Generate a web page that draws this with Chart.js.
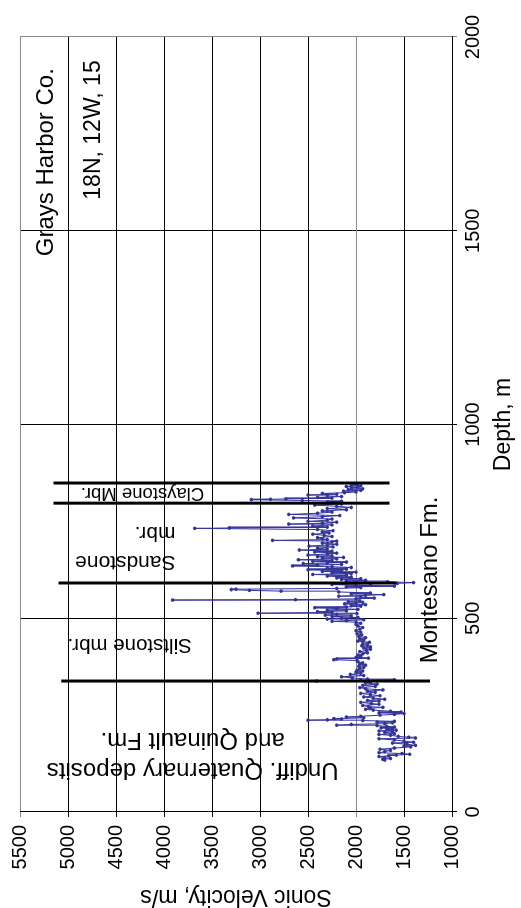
<!DOCTYPE html>
<html>
<head>
<meta charset="utf-8">
<script src="https://cdn.jsdelivr.net/npm/chart.js@4"></script>
<style>
html, body { margin: 0; padding: 0; background: #fff; }
/* chart is drawn depth-along-x, then the whole box is turned a quarter turn */
#wrap {
    position: absolute; left: 0; top: 0; width: 908px; height: 521px;
    transform-origin: 0 0; transform: translateY(908px) rotate(-90deg);
}
</style>
</head>
<body>
<div id="wrap"><canvas id="chart-sonic" width="908" height="521"></canvas></div>
<script>
const depthTicks = [0, 500, 1000, 1500, 2000];
const velocityTicks = [1000, 1500, 2000, 2500, 3000, 3500, 4000, 4500, 5000, 5500];

// sonic log, depth (m) and velocity (m/s)
const depths = [
    134, 136, 138, 140, 143, 145, 147, 149, 151, 153,
    156, 159, 162, 165, 168, 170, 172, 175, 178, 180,
    183, 186, 189, 191, 193, 195, 198, 200, 202, 205,
    207, 209, 211, 213, 215, 217, 219, 221, 223, 224,
    226, 228, 230, 232, 234, 236, 237, 238, 240, 241,
    243, 245, 247, 250, 252, 254, 256, 258, 260, 263,
    265, 268, 270, 272, 275, 278, 280, 283, 286, 288,
    291, 294, 297, 300, 303, 306, 309, 312, 315, 318,
    321, 324, 327, 330, 333, 336, 338, 340, 341, 343,
    346, 349, 352, 355, 358, 361, 364, 366, 370, 373,
    376, 379, 382, 385, 388, 391, 393, 395, 397, 399,
    402, 405, 408, 411, 414, 417, 420, 423, 426, 429,
    432, 435, 438, 441, 444, 447, 450, 453, 457, 460,
    464, 468, 472, 476, 480, 484, 487, 490, 492, 494,
    496, 498, 500, 502, 504, 506, 508, 510, 512, 513,
    515, 517, 519, 521, 523, 525, 527, 529, 531, 533,
    535, 537, 539, 541, 543, 545, 547, 548, 550, 552,
    555, 557, 559, 561, 563, 565, 568, 570, 572, 574,
    575, 577, 579, 581, 583, 585, 587, 589, 590, 592,
    594, 596, 598, 600, 602, 604, 606, 609, 611, 613,
    615, 617, 619, 621, 623, 625, 627, 629, 631, 633,
    635, 637, 639, 641, 643, 645, 647, 649, 651, 653,
    655, 657, 659, 661, 663, 666, 668, 671, 673, 676,
    678, 681, 684, 686, 689, 691, 694, 697, 699, 701,
    703, 705, 708, 711, 714, 717, 720, 723, 726, 729,
    732, 733, 735, 738, 741, 743, 745, 748, 750, 753,
    756, 759, 762, 765, 768, 771, 774, 777, 780, 783,
    786, 789, 792, 795, 798, 800, 802, 804, 806, 807,
    808, 810, 812, 814, 816, 818, 820, 822, 824, 826,
    828, 830, 832, 834, 836, 838, 840, 842, 844, 846,
];
const velocities = [
    1700, 1720, 1640, 1700, 1760, 1660, 1580, 1440, 1520, 1760,
    1700, 1640, 1750, 1600, 1430, 1500, 1380, 1470, 1620, 1400,
    1500, 1600, 1760, 1380, 1450, 1560, 1640, 1760, 1600, 1700,
    1620, 1760, 1580, 1680, 1620, 1740, 1600, 1680, 1780, 2200,
    2050, 1700, 1620, 1780, 1600, 1930, 2500, 2300, 2150, 2230,
    1920, 2100, 1950, 1750, 1600, 1500, 1760, 1530, 1640, 1820,
    1900, 1850, 1720, 1870, 1930, 1760, 1840, 1950, 1760, 1880,
    1700, 1820, 1920, 1750, 1850, 1950, 1800, 1880, 1720, 1900,
    1960, 1800, 1930, 1780, 1900, 1850, 2410, 1950, 1600, 1880,
    2040, 2150, 1920, 2060, 1950, 2000, 1930, 1990, 1960, 1920,
    1970, 1900, 1960, 1930, 1980, 1990, 2230, 2200, 1870, 2000,
    1950, 1980, 1930, 1880, 1960, 1890, 1850, 1920, 1850, 1940,
    1880, 1930, 1860, 1980, 1920, 1960, 1900, 1970, 1940, 1990,
    1950, 2000, 1960, 1930, 1980, 2000, 1950, 2000, 2250, 2100,
    1920, 2300, 2150, 1980, 2250, 2050, 2320, 2200, 1990, 3020,
    2250, 2400, 2100, 2300, 1980, 2200, 2430, 2100, 1950, 2050,
    1900, 2120, 2000, 1930, 2080, 1960, 3910, 2630, 2000, 1810,
    1950, 2180, 1900, 1710, 2050, 1850, 2180, 2780, 3110, 3300,
    3250, 2200, 1950, 2100, 1600, 2000, 2250, 1850, 1570, 1400,
    1670, 2100, 1900, 2150, 1950, 2200, 2050, 2300, 2100, 2450,
    2050, 2250, 2000, 2350, 2150, 2500, 2100, 2300, 2050, 2250,
    2660, 2400, 2150, 2550, 2300, 2100, 2450, 2250, 2600, 2200,
    2350, 2130, 2400, 2250, 2500, 2300, 2200, 2430, 2250, 2590,
    2300, 2400, 2240, 2490, 2300, 2200, 2350, 2250, 2200, 2870,
    2300, 2350, 2400, 2250, 2330, 2450, 2280, 2350, 2240, 2400,
    3680, 3320, 2300, 2450, 2250, 2700, 2350, 2200, 2500, 2300,
    2250, 2650, 2350, 2170, 2700, 2400, 2250, 2350, 2100, 2300,
    2050, 2200, 2430, 2150, 2250, 2300, 2150, 2560, 3090, 2890,
    2730, 2250, 2400, 2150, 2300, 2500, 2200, 2350, 2120, 2000,
    2130, 1950, 2080, 1930, 2050, 1980, 2100, 1950, 2050, 1990,
];

// formation contacts: depth, and velocity span of the marker line
const contactDepths = [338, 591, 797, 849];
const contactVelHigh = [5070, 5100, 5150, 5150];
const contactVelLow = [1230, 1580, 1650, 1650];

const FONT = "'Liberation Sans', Arial, sans-serif";

// text notes placed in data units (depth, velocity)
const notes = [
    { lines: ['Grays Harbor Co.'], depth: 1677, vel: 5223, size: 24, rot: 0, align: 'center' },
    { lines: ['18N, 12W, 15'], depth: 1760, vel: 4731, size: 23, rot: 0, align: 'center' },
    { lines: ['Montesano Fm.'], depth: 599, vel: 1226, size: 24, rot: 0, align: 'center' },
    { lines: ['Claystone Mbr.'], depth: 823, vel: 4224, size: 18.5, rot: -90, align: 'center' },
    { lines: ['Sandstone', 'mbr.'], depth: 683, vel: 3880, size: 21, rot: -90, align: 'left', lh: 29 },
    { lines: ['Siltstone mbr.'], depth: 431, vel: 4357, size: 20.5, rot: -90, align: 'center' },
    { lines: ['Undiff. Quaternary deposits', 'and Quinault Fm.'], depth: 147, vel: 3701, size: 24, rot: -90, align: 'center', lh: 30 },
];

const notesPlugin = {
    id: 'notes',
    afterDatasetsDraw(chart) {
        const { ctx, scales } = chart;
        ctx.save();
        ctx.fillStyle = '#000';
        ctx.textBaseline = 'middle';
        notes.forEach(n => {
            const px = scales.x.getPixelForValue(n.depth);
            const py = scales.y.getPixelForValue(n.vel);
            const lh = n.lh || n.size * 1.2;
            ctx.save();
            ctx.translate(px, py);
            ctx.rotate(n.rot * Math.PI / 180);
            ctx.font = n.size + 'px ' + FONT;
            ctx.textAlign = n.align;
            n.lines.forEach((t, i) => {
                ctx.fillText(t, 0, (i - (n.lines.length - 1) / 2) * lh);
            });
            ctx.restore();
        });
        ctx.restore();
    },
};

Chart.defaults.font.family = FONT;
Chart.defaults.color = '#000';

const contactSets = contactDepths.map((d, i) => ({
    data: [{ x: d, y: contactVelHigh[i] }, { x: d, y: contactVelLow[i] }],
    showLine: true,
    borderColor: '#000',
    borderWidth: 3,
    pointRadius: 0,
}));

new Chart(document.getElementById('chart-sonic'), {
    type: 'scatter',
    data: {
        datasets: [
            ...contactSets,
            {
                label: 'Sonic velocity',
                data: depths.map((d, i) => ({ x: d, y: velocities[i] })),
                showLine: true,
                borderColor: '#333399',
                borderWidth: 1,
                pointRadius: 1.8,
                pointBackgroundColor: '#333399',
                pointBorderWidth: 0,
            },
        ],
    },
    plugins: [notesPlugin],
    options: {
        responsive: false,
        animation: false,
        devicePixelRatio: 1,
        layout: { padding: { top: 13, right: 37, left: 0, bottom: 0 } },
        plugins: { legend: { display: false }, tooltip: { enabled: false } },
        scales: {
            x: {
                type: 'linear',
                position: 'bottom',
                min: 0,
                max: 2000,
                afterBuildTicks: s => { s.ticks = depthTicks.map(v => ({ value: v })); },
                afterFit: s => { s.height = 69; },
                grid: {
                    color: c => (c.tick && c.tick.value === 2000 ? '#8a8a8a' : '#000'),
                    tickLength: 5,
                },
                border: { color: '#000', width: 1 },
                ticks: {
                    font: { size: 20 },
                    padding: 4,
                    maxRotation: 0,
                    minRotation: 0,
                    autoSkip: false,
                    callback: v => String(v),
                },
                title: {
                    display: true,
                    text: 'Depth, m',
                    font: { size: 23, lineHeight: 1.2 },
                    padding: { top: 0, bottom: 4 },
                },
            },
            y: {
                type: 'linear',
                position: 'left',
                min: 1000,
                max: 5500,
                afterBuildTicks: s => { s.ticks = velocityTicks.map(v => ({ value: v })); },
                afterFit: s => { s.width = 96; },
                grid: {
                    color: c => (c.tick && (c.tick.value === 5500 || c.tick.value === 2000) ? '#8a8a8a' : '#000'),
                    tickLength: 5,
                },
                border: { color: '#000', width: 1 },
                ticks: { font: { size: 20 }, padding: 8, autoSkip: false, callback: v => String(v) },
                title: {
                    display: true,
                    text: 'Sonic Velocity, m/s',
                    font: { size: 23, lineHeight: 1 },
                    padding: { top: 0, bottom: 0 },
                },
            },
        },
    },
});
</script>
</body>
</html>
